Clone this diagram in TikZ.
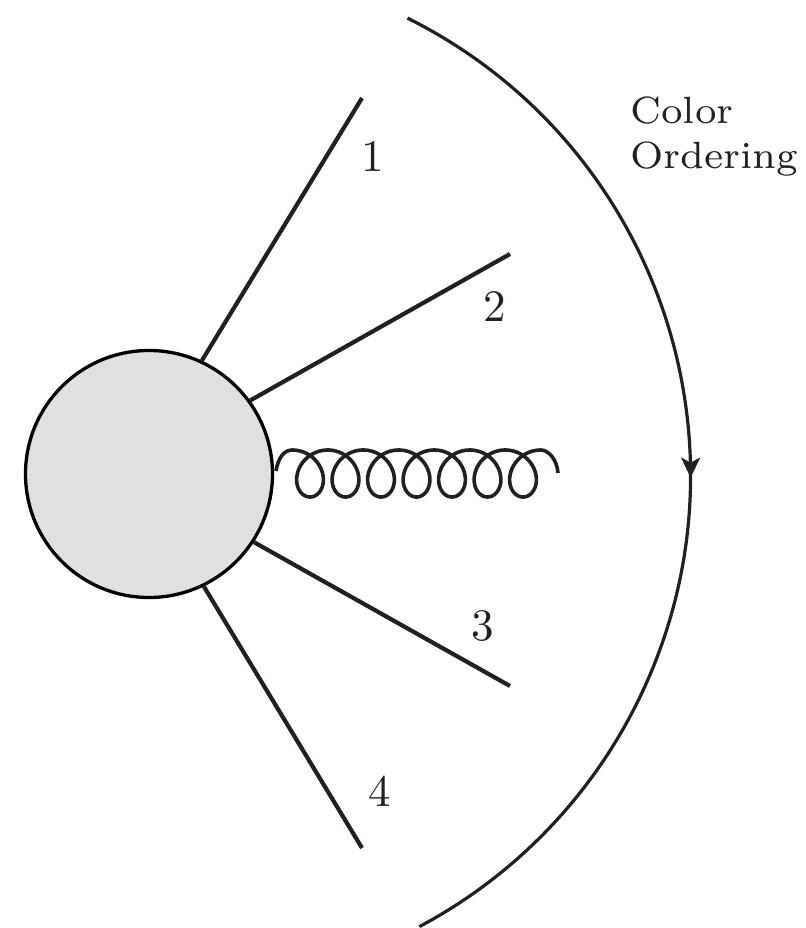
\documentclass[tikz,border=0pt]{standalone}
\usetikzlibrary{decorations.markings,arrows.meta}
\definecolor{ink}{RGB}{35,31,32}
\definecolor{blobgray}{RGB}{224,224,224}
\begin{document}
\begin{tikzpicture}[x=1pt,y=-1pt,
  leg/.style={draw=ink,line width=4.2pt},
  lbl/.style={inner sep=0pt,scale=4.5,text=ink},
  gluon/.style={draw=ink,line width=3.6pt,line join=round},
  ordarc/.style={draw=ink,line width=3.2pt,postaction={decorate},decoration={markings,mark=at position 0.508 with {\arrow{Stealth[length=20pt,width=19pt,inset=5pt]}}}}]
\useasboundingbox (0,0) rectangle (805,928);
\node[circle,draw=black,line width=3.3pt,fill=blobgray,minimum size=247pt,inner sep=0pt] (blob) at (149,474) {};
\coordinate (e1) at (362,98);
\coordinate (e2) at (510,254);
\coordinate (e3) at (510,686);
\coordinate (e4) at (362,848);
\coordinate (gstart) at (276,471);
\coordinate (gend) at (558,473);
\draw[leg] (blob.65) -- (e1);
\draw[leg] (blob.36) -- (e2);
\draw[leg] (blob.-33) -- (e3);
\draw[leg] (blob.-64.5) -- (e4);
\draw[gluon] (gstart) .. controls (278,458) and (284,450) .. (292.25,450)
  -- plot[domain=0:43.98,samples=500,variable=\t] ({292.25+35.5*\t/(2*pi)+21.5*sin(\t r)},{473.5-23.5*cos(\t r)})
  .. controls (549,450) and (557,460) .. (gend);
\coordinate (arcc) at (179.5,475.4);
\draw[ordarc] (arcc) ++(-63.5:511) arc[start angle=-63.5,end angle=62,radius=511];
\node[lbl] (n1) at (373,157) {1};
\node[lbl] (n2) at (495,307) {2};
\node[lbl] (n3) at (483,626) {3};
\node[lbl] (n4) at (380,791) {4};
\node[inner sep=0pt,scale=5.43,anchor=base west,align=left,text=ink,font={\fontsize{7}{8.29}\selectfont}] (co) at (629,169) {Color\\Ordering};
\end{tikzpicture}
\end{document}
